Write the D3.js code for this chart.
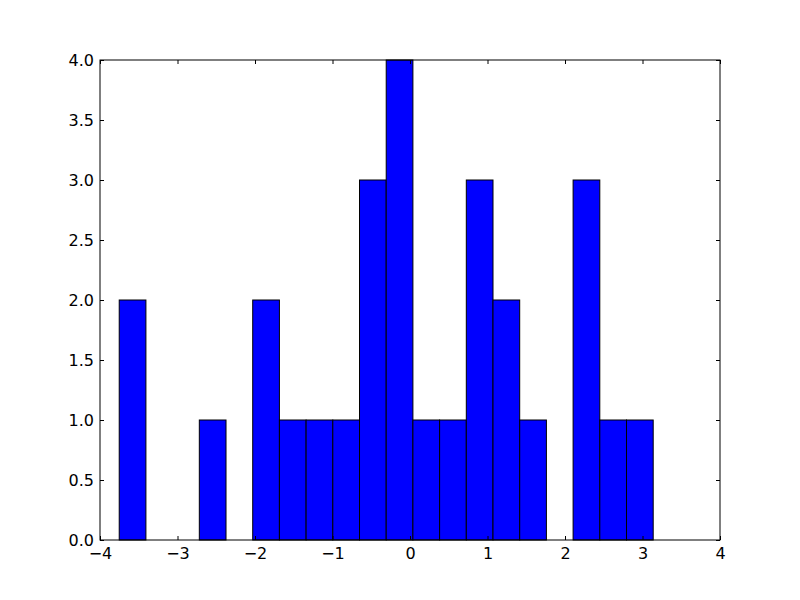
<!DOCTYPE html>
<html><head><meta charset="utf-8">
<script src="https://cdn.jsdelivr.net/npm/d3@7"></script>
<style>body{margin:0;background:#fff}svg{display:block}</style>
</head><body><svg id="c" width="800" height="600"></svg>
<script>
const binEdges = [-3.752,-3.4075,-3.063,-2.7185,-2.374,-2.0295,-1.685,-1.3405,-0.996,-0.6515,-0.307,0.0375,0.382,0.7265,1.071,1.4155,1.76,2.1045,2.449,2.7935,3.138];
const counts = [2,0,0,1,0,2,1,1,1,3,4,1,1,3,2,1,0,3,1,1];
const xTicks = [-4,-3,-2,-1,0,1,2,3,4];
const yTicks = [0,0.5,1,1.5,2,2.5,3,3.5,4];

const svg = d3.select("#c");
const L=100,R=720,T=60,B=540;
const x = d3.scaleLinear().domain([-4,4]).range([L,R]);
const y = d3.scaleLinear().domain([0,4]).range([B,T]);
const fmtX = d => d<0 ? "\u2212"+Math.abs(d) : String(d);

svg.append("g").selectAll("rect").data(counts.map((c,i)=>({c,x0:binEdges[i],x1:binEdges[i+1]})).filter(d=>d.c>0))
 .join("rect")
 .attr("x",d=>x(d.x0)).attr("width",d=>x(d.x1)-x(d.x0))
 .attr("y",d=>y(d.c)).attr("height",d=>y(0)-y(d.c))
 .attr("fill","#0000ff").attr("stroke","#000").attr("stroke-width",1);

function axis(gen, tr){
  const g = svg.append("g").attr("transform",tr).call(gen)
    .attr("font-family","DejaVu Sans").attr("font-size",16);
  g.select(".domain").remove();
  g.selectAll("line").attr("stroke","#000");
  g.selectAll("text").attr("fill","#000");
  return g;
}
axis(d3.axisBottom(x).tickValues(xTicks).tickFormat(fmtX).tickSizeInner(-4).tickPadding(8).tickSizeOuter(0),`translate(0,${B})`);
axis(d3.axisTop(x).tickValues(xTicks).tickFormat("").tickSizeInner(-4).tickSizeOuter(0),`translate(0,${T})`);
axis(d3.axisLeft(y).tickValues(yTicks).tickFormat(d3.format(".1f")).tickSizeInner(-4).tickPadding(6).tickSizeOuter(0),`translate(${L},0)`);
axis(d3.axisRight(y).tickValues(yTicks).tickFormat("").tickSizeInner(-4).tickSizeOuter(0),`translate(${R},0)`);

svg.append("rect").attr("x",L).attr("y",T).attr("width",R-L).attr("height",B-T)
 .attr("fill","none").attr("stroke","#000").attr("stroke-width",1);
</script></body></html>
